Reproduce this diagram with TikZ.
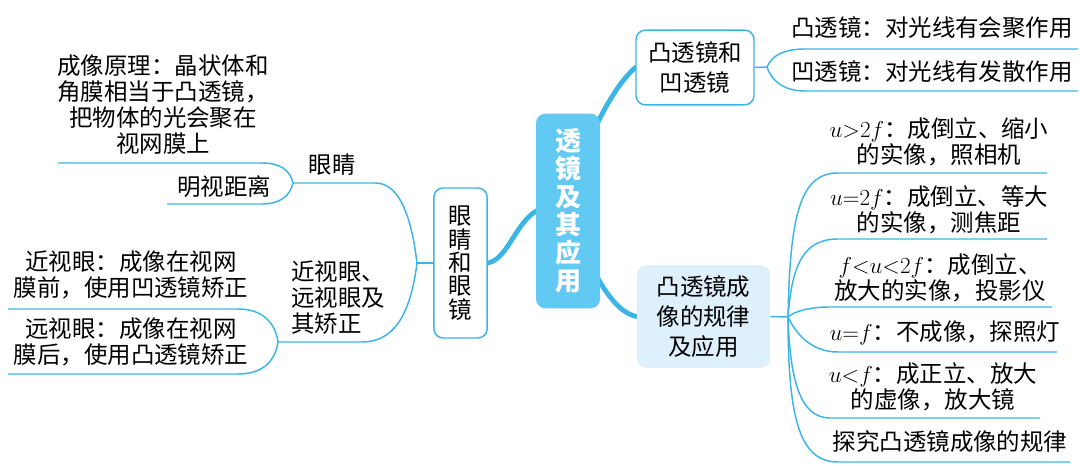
\documentclass[tikz,border=0pt]{standalone}
\usepackage[no-math]{fontspec}
\setmainfont{Noto Sans CJK SC}
\usetikzlibrary{backgrounds}

\definecolor{lineblue}{HTML}{3AB5E6}
\definecolor{mainblue}{HTML}{62C9F2}
\definecolor{paleblue}{HTML}{DDF0FB}

\newcommand\leafsize{\fontsize{17.6}{19.5}\selectfont}
\newcommand\boxsize{\fontsize{17.6}{22.5}\selectfont}

\tikzset{
  trunk/.style={lineblue, line width=3.6pt, line cap=round},
  twig/.style={lineblue, line width=1.1pt},
  leaf/.style={align=center, inner sep=0pt, font=\leafsize},
  topicbox/.style={draw=lineblue, line width=1.1pt, fill=white, rounded corners=7pt, align=center, inner sep=0pt}
}

\begin{document}
\begin{tikzpicture}[x=0.75pt, y=-0.75pt]
    \useasboundingbox (0,0) rectangle (1080,466);

    % Main topic
    \node[fill=mainblue, rounded corners=7pt, text=white, align=center, inner sep=0pt,
          minimum width=48pt, minimum height=146pt, font=\fontsize{19.5}{21}\selectfont\bfseries]
          (lens) at (568,211) {透\\镜\\及\\其\\应\\用};

    % Sub topics
    \node[topicbox, minimum width=40pt, minimum height=112.5pt, font=\fontsize{17.6}{17.5}\selectfont]
          (eyes) at (460.5,263) {眼\\睛\\和\\眼\\镜};
    \node[topicbox, minimum width=88.5pt, minimum height=56pt, font=\boxsize]
          (lenses) at (695,67.5) {凸透镜和\\凹透镜};
    \node[fill=paleblue, rounded corners=7pt, align=center, inner sep=0pt,
          minimum width=100pt, minimum height=77pt, font=\boxsize]
          (rules) at (703.5,316.5) {凸透镜成\\像的规律\\及应用};

    % Trunks
    \begin{pgfonlayer}{background}
        \draw[trunk] (eyes.east) .. controls (515,258) and (520,190) .. (lens.center);
        \draw[trunk] (lens.center) .. controls (580,150) and (610,90) .. (lenses.west);
        \draw[trunk] (lens.center) .. controls (590,270) and (612,312) .. (rules.west);
    \end{pgfonlayer}

    % Left labels
    \node[leaf] (eyelabel) at (332,165) {眼睛};
    \node[leaf] (principle) at (163,104.5) {成像原理：晶状体和\\角膜相当于凸透镜，\\把物体的光会聚在\\视网膜上};
    \node[leaf] (distance) at (224,187) {明视距离};
    \node[leaf, align=left] (fix) at (338,297.5) {近视眼、\\远视眼及\\其矫正};
    \node[leaf] (myopia) at (131,275) {近视眼：成像在视网\\膜前，使用凹透镜矫正};
    \node[leaf] (hyperopia) at (131,342) {远视眼：成像在视网\\膜后，使用凸透镜矫正};

    % Right labels
    \node[leaf] (convex) at (932,28) {凸透镜：对光线有会聚作用};
    \node[leaf] (concave) at (932,72) {凹透镜：对光线有发散作用};
    \node[leaf] (caseA) at (939,141.5) {$u{>}2f$：成倒立、缩小\\的实像，照相机};
    \node[leaf] (caseB) at (939,210) {$u{=}2f$：成倒立、等大\\的实像，测焦距};
    \node[leaf] (caseC) at (940,277.5) {$f{<}u{<}2f$：成倒立、\\放大的实像，投影仪};
    \node[leaf] (caseD) at (945,333) {$u{=}f$：不成像，探照灯};
    \node[leaf] (caseE) at (933,386.5) {$u{<}f$：成正立、放大\\的虚像，放大镜};
    \node[leaf] (explore) at (950,442) {探究凸透镜成像的规律};

    % Fork points
    \coordinate (forkeyes) at (417,263);
    \coordinate (forkeye) at (293,183);
    \coordinate (forkfix) at (278,342);
    \coordinate (forklens) at (767,67);
    \coordinate (forkrule) at (788,317);

    % Line ends
    \coordinate (endprinciple) at (58,163);
    \coordinate (enddistance) at (167,204);
    \coordinate (endmyopia) at (8,309);
    \coordinate (endhyperopia) at (8,374);
    \coordinate (endconvex) at (1078,49);
    \coordinate (endconcave) at (1078,91);
    \coordinate (endA) at (1047,173);
    \coordinate (endB) at (1047,239);
    \coordinate (endC) at (1052,307);
    \coordinate (endD) at (1057,352);
    \coordinate (endE) at (1040,418);
    \coordinate (endexplore) at (1070,462);

    % Left twigs
    \draw[twig] (eyes.west) -- (forkeyes);
    \draw[twig] (forkeyes) .. controls (410,205) and (395,183) .. (375,183) -- (forkeye);
    \draw[twig] (forkeyes) .. controls (410,318) and (392,342) .. (362,342) -- (forkfix);
    \draw[twig] (forkeye) .. controls (290,170) and (280,163) .. (262,163) -- (endprinciple);
    \draw[twig] (forkeye) .. controls (290,196) and (280,204) .. (262,204) -- (enddistance);
    \draw[twig] (forkfix) .. controls (275,322) and (262,309) .. (238,309) -- (endmyopia);
    \draw[twig] (forkfix) .. controls (275,362) and (262,374) .. (238,374) -- (endhyperopia);

    % Right twigs
    \draw[twig] (lenses.east) -- (forklens);
    \draw[twig] (forklens) .. controls (772,55) and (785,49) .. (805,49) -- (endconvex);
    \draw[twig] (forklens) .. controls (772,82) and (785,91) .. (805,91) -- (endconcave);
    \draw[twig] (rules.east) -- (forkrule);
    \draw[twig] (forkrule) .. controls (790,215) and (800,173) .. (838,173) -- (endA);
    \draw[twig] (forkrule) .. controls (792,262) and (805,239) .. (838,239) -- (endB);
    \draw[twig] (forkrule) .. controls (795,311) and (810,307) .. (830,307) -- (endC);
    \draw[twig] (forkrule) .. controls (795,332) and (810,352) .. (838,352) -- (endD);
    \draw[twig] (forkrule) .. controls (790,380) and (800,418) .. (830,418) -- (endE);
    \draw[twig] (forkrule) .. controls (788,420) and (800,462) .. (838,462) -- (endexplore);
\end{tikzpicture}
\end{document}
